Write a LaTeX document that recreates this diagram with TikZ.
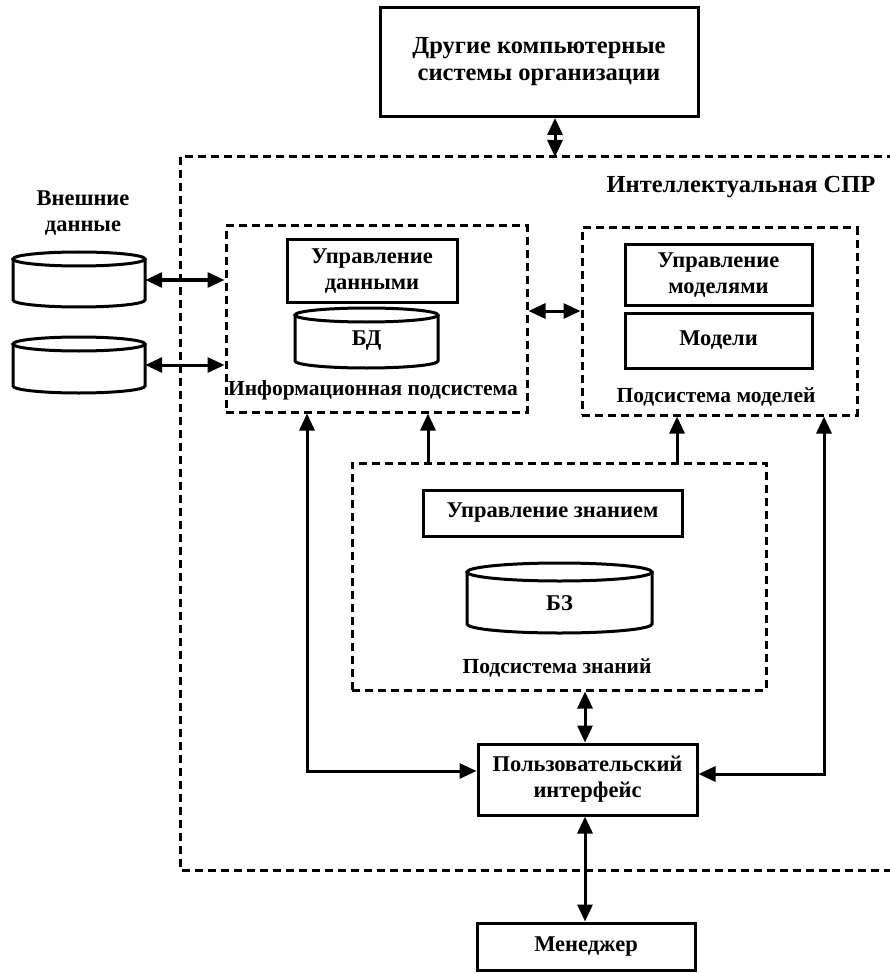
\documentclass[tikz,border=0pt]{standalone}
\usepackage{fontspec}
\setmainfont{Liberation Serif}
\usetikzlibrary{arrows.meta}

% draws a database cylinder between x1..x2 and ytop..ybot (y grows downward)
\newcommand{\dbdrum}[5]{%
  \pgfmathsetmacro{\dcx}{(#1+#2)/2}%
  \pgfmathsetmacro{\drx}{(#2-#1)/2}%
  \draw[box] (\dcx,#3+#5) ellipse [x radius=\drx, y radius=#5];
  \draw[box] (#1,#3+#5) -- (#1,#4-#5)
    arc[start angle=180, end angle=0, x radius=\drx, y radius=#5] -- (#2,#3+#5);
}

\begin{document}
\begin{tikzpicture}[x=1pt, y=-1pt,
  box/.style={draw, line width=3pt},
  frame/.style={draw, line width=3pt, dash pattern=on 8pt off 5pt},
  lbl/.style={font=\fontsize{22.5}{26}\selectfont\bfseries, align=center, inner sep=0pt},
  biglbl/.style={lbl, font=\fontsize{24.5}{27}\selectfont\bfseries},
  sublbl/.style={lbl, font=\fontsize{21.5}{25}\selectfont\bfseries},
  conn/.style={line width=3pt, {Triangle[length=17pt, width=15pt]}-{Triangle[length=17pt, width=15pt]}},
  single/.style={line width=3pt, -{Triangle[length=17pt, width=15pt]}}]

\useasboundingbox (0,0) rectangle (890,973);
\begin{scope}
\clip (0,0) rectangle (890,973);

% other systems of the organization
\node[box, biglbl, minimum width=318pt, minimum height=109pt] (other) at (539,62)
  {Другие компьютерные\\системы организации};

% outer boundary of the intelligent DSS
\draw[frame] (180,157) rectangle (910,870);
\coordinate (topedge) at (555,157);
\node[biglbl] (spr) at (741,187) {Интеллектуальная СПР};

% external data
\node[lbl] (extlbl) at (83,213) {Внешние\\данные};
\dbdrum{13}{145}{252}{307}{7}
\node[inner sep=0pt, minimum width=132pt, minimum height=55pt] (ext1) at (79,280) {};
\dbdrum{13}{145}{337}{393}{7}
\node[inner sep=0pt, minimum width=132pt, minimum height=56pt] (ext2) at (79,365) {};

% information subsystem
\node[frame, minimum width=301pt, minimum height=186pt] (info) at (376.5,319) {};
\node[box, lbl, minimum width=170pt, minimum height=62pt] (dm) at (372,271) {Управление\\данными};
\dbdrum{295}{438}{308}{368}{7}
\node[lbl, minimum width=143pt, minimum height=60pt] (bd) at (366.5,341) {БД};
\node[sublbl] (infolbl) at (373,390) {Информационная подсистема};

% model subsystem
\node[frame, minimum width=275pt, minimum height=187pt] (models) at (719.5,321.5) {};
\node[box, lbl, minimum width=187pt, minimum height=60pt] (mm) at (718.5,275) {Управление\\моделями};
\node[box, lbl, minimum width=187pt, minimum height=55pt] (mod) at (718.5,340.5) {Модели};
\node[sublbl] (modlbl) at (716,397) {Подсистема моделей};

% knowledge subsystem
\node[frame, minimum width=414pt, minimum height=227pt] (know) at (559,576.5) {};
\node[box, lbl, minimum width=259pt, minimum height=46pt] (km) at (552.5,513) {Управление знанием};
\dbdrum{467}{652}{563}{633}{9}
\node[lbl, minimum width=185pt, minimum height=70pt] (bz) at (559.5,603) {БЗ};
\node[sublbl] (knowlbl) at (557,668) {Подсистема знаний};

% user interface and manager
\node[box, lbl, minimum width=219pt, minimum height=71pt] (ui) at (587.5,779.5) {Пользовательский\\интерфейс};
\node[box, lbl, minimum width=218pt, minimum height=47pt] (mgr) at (586,946.5) {Менеджер};

% connectors
\draw[conn] (topedge |- other.south) -- (topedge);
\draw[conn] (ext1.east) -- (ext1.east -| info.west);
\draw[conn] (ext2.east) -- (ext2.east -| info.west);
\coordinate (im) at (0,311);
\draw[conn] (im -| info.east) -- (im -| models.west);

\coordinate (kl) at (428,0);
\coordinate (kr) at (677,0);
\draw[single] (kl |- know.north) -- (kl |- info.south);
\draw[single] (kr |- know.north) -- (kr |- models.south);

\coordinate (mid) at (585,0);
\draw[conn] (mid |- know.south) -- (mid |- ui.north);
\draw[conn] (mid |- ui.south) -- (mid |- mgr.north);

\coordinate (ll) at (307,771);
\coordinate (rr) at (824,774);
\draw[conn] (ll |- info.south) |- (ll -| ui.west);
\draw[conn] (rr |- models.south) |- (rr -| ui.east);
\end{scope}
\end{tikzpicture}
\end{document}
